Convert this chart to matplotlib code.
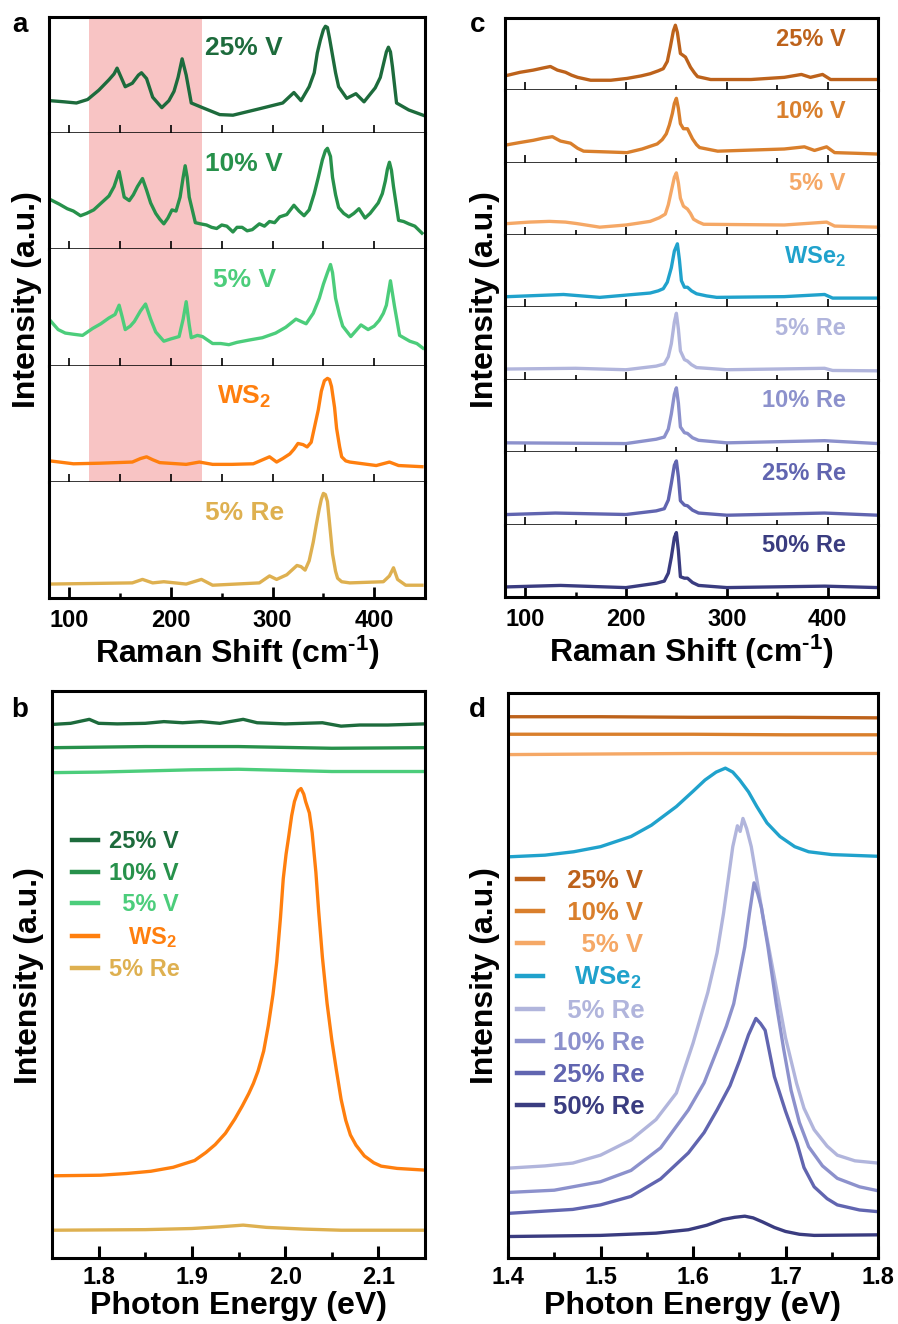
import matplotlib
matplotlib.use('Agg')
import matplotlib.pyplot as plt
from matplotlib.ticker import MultipleLocator

plt.rcParams['font.family'] = ['Liberation Sans', 'DejaVu Sans']
plt.rcParams['font.weight'] = 'bold'
plt.rcParams['mathtext.fontset'] = 'custom'
plt.rcParams['mathtext.rm'] = 'Liberation Sans:bold'
plt.rcParams['mathtext.bf'] = 'Liberation Sans:bold'
plt.rcParams['mathtext.it'] = 'Liberation Sans:bold'
plt.rcParams['mathtext.default'] = 'rm'

# ---------------- Panel a : WS2-based Raman (normalised per sub-panel) ----------------
a_labels = ['25% V', '10% V', '5% V', 'WS$_2$', '5% Re']
a_colors = ['#1d6b3c', '#27914b', '#4ccd7b', '#ff7f0e', '#deb050']
a_x_25V = [81,95,107,118,129,139,144,147,150,155,162,168,171,176,182,191,198,203,207,211,215,220,231,248,261,287,310,321,328,336,341,344,347,350,352,354,356,359,362,365,373,382,390,401,406,409,412,414,416,418,422,434,448]
a_y_25V = [0.28,0.27,0.26,0.29,0.37,0.46,0.51,0.56,0.50,0.40,0.43,0.50,0.52,0.47,0.31,0.22,0.28,0.36,0.48,0.64,0.50,0.26,0.22,0.16,0.155,0.21,0.26,0.35,0.28,0.40,0.52,0.69,0.80,0.89,0.92,0.91,0.82,0.67,0.52,0.40,0.30,0.34,0.27,0.39,0.48,0.59,0.70,0.74,0.70,0.57,0.26,0.20,0.155]
a_x_10V = [81,90,98,104,111,117,124,129,134,139,144,149,154,159,163,167,172,176,180,185,189,193,197,201,205,209,212,214,216,218,224,229,235,240,245,250,255,261,265,270,275,280,287,292,297,302,307,314,321,326,331,336,341,345,349,352,354,357,359,362,365,370,375,380,385,388,391,396,404,408,411,413,415,417,419,424,429,434,440,447]
a_y_10V = [0.43,0.39,0.35,0.33,0.29,0.31,0.34,0.38,0.42,0.46,0.54,0.67,0.45,0.42,0.47,0.54,0.61,0.51,0.40,0.31,0.26,0.22,0.27,0.34,0.33,0.45,0.62,0.72,0.62,0.45,0.23,0.22,0.21,0.19,0.18,0.21,0.20,0.15,0.19,0.19,0.16,0.17,0.22,0.20,0.24,0.23,0.28,0.30,0.38,0.33,0.29,0.34,0.48,0.62,0.77,0.85,0.87,0.80,0.62,0.47,0.36,0.31,0.28,0.31,0.35,0.31,0.27,0.31,0.40,0.48,0.59,0.69,0.75,0.68,0.54,0.25,0.24,0.22,0.20,0.14]
a_x_5V = [82,89,96,104,113,118,123,131,139,145,149,152,155,160,164,170,175,180,185,193,200,208,212,215,218,220,226,231,236,241,249,257,265,277,290,303,313,323,328,333,340,346,350,354,357,359,362,366,369,377,382,387,394,400,405,409,412,416,420,425,435,442,448]
a_y_5V = [0.38,0.31,0.28,0.27,0.26,0.29,0.32,0.36,0.41,0.44,0.52,0.42,0.31,0.34,0.38,0.47,0.53,0.40,0.29,0.21,0.23,0.25,0.40,0.55,0.35,0.24,0.26,0.25,0.22,0.19,0.19,0.18,0.20,0.22,0.24,0.28,0.33,0.40,0.38,0.36,0.45,0.58,0.70,0.80,0.87,0.80,0.58,0.43,0.34,0.25,0.30,0.35,0.31,0.34,0.39,0.45,0.52,0.73,0.51,0.26,0.21,0.19,0.15]
a_x_WS2 = [81,104,130,162,170,176,182,189,215,228,241,260,281,297,304,310,317,321,325,330,334,338,341,345,348,351,354,356,358,361,363,366,368,372,376,402,415,424,447]
a_y_WS2 = [0.18,0.155,0.16,0.17,0.20,0.215,0.19,0.165,0.15,0.17,0.15,0.15,0.155,0.215,0.17,0.20,0.24,0.28,0.33,0.32,0.30,0.34,0.46,0.62,0.78,0.87,0.89,0.88,0.82,0.64,0.46,0.30,0.215,0.18,0.17,0.14,0.17,0.14,0.13]
a_x_5Re = [81,162,172,182,193,215,230,241,287,297,304,314,319,324,328,332,336,340,343,346,348,350,352,354,357,359,362,364,368,376,409,415,419,423,431,447]
a_y_5Re = [0.12,0.13,0.16,0.13,0.14,0.12,0.16,0.11,0.13,0.19,0.16,0.20,0.24,0.28,0.27,0.24,0.32,0.48,0.63,0.77,0.85,0.90,0.89,0.83,0.56,0.38,0.23,0.17,0.14,0.13,0.14,0.19,0.26,0.16,0.11,0.11]
a_band = (119, 231)

# ---------------- Panel c : WSe2-based Raman ----------------
c_labels = ['25% V', '10% V', '5% V', 'WSe$_2$', '5% Re', '10% Re', '25% Re', '50% Re']
c_colors = ['#bd621b', '#d97f2c', '#f5a866', '#20a2cc', '#b1b5dc', '#8c91cc', '#6165b0', '#3a3c80']
c_x_25V = [83,95,108,118,125,132,140,146,152,165,185,201,215,224,232,237,241,244,247,249,251,254,259,264,268,271,284,324,357,374,383,395,403,420,450]
c_y_25V = [0.21,0.25,0.28,0.31,0.33,0.28,0.25,0.21,0.18,0.14,0.14,0.165,0.20,0.23,0.27,0.30,0.40,0.60,0.82,0.90,0.80,0.51,0.46,0.32,0.24,0.19,0.15,0.15,0.18,0.22,0.18,0.22,0.15,0.15,0.15]
c_x_10V = [83,95,108,118,127,135,145,152,158,180,201,216,231,236,240,243,246,248,250,252,254,257,261,266,270,273,291,357,377,387,399,407,430,450]
c_y_10V = [0.25,0.28,0.31,0.34,0.36,0.30,0.27,0.20,0.16,0.15,0.14,0.19,0.26,0.32,0.40,0.52,0.68,0.82,0.89,0.75,0.54,0.47,0.47,0.33,0.25,0.21,0.16,0.19,0.22,0.17,0.22,0.14,0.13,0.12]
c_x_5V = [83,104,124,140,151,174,200,224,233,239,242,245,248,250,252,254,257,261,264,267,272,277,357,399,407,450]
c_y_5V = [0.16,0.18,0.19,0.18,0.16,0.11,0.14,0.19,0.24,0.29,0.42,0.61,0.80,0.86,0.72,0.51,0.40,0.36,0.30,0.22,0.18,0.15,0.14,0.18,0.125,0.11]
c_x_WSe2 = [83,138,174,224,232,237,241,245,248,251,253,255,258,261,265,270,280,290,357,397,405,450]
c_y_WSe2 = [0.15,0.18,0.14,0.20,0.23,0.26,0.35,0.55,0.78,0.88,0.66,0.37,0.28,0.28,0.23,0.19,0.16,0.14,0.15,0.18,0.13,0.13]
c_x_5Re = [83,150,200,230,238,242,245,248,250,252,254,258,261,265,270,300,397,405,450]
c_y_5Re = [0.15,0.16,0.14,0.19,0.22,0.32,0.50,0.80,0.92,0.70,0.40,0.28,0.26,0.21,0.17,0.14,0.16,0.13,0.125]
c_x_10Re = [83,200,230,238,242,245,248,250,252,254,258,261,266,272,300,397,450]
c_y_10Re = [0.13,0.12,0.18,0.21,0.32,0.53,0.80,0.89,0.68,0.35,0.27,0.26,0.20,0.165,0.13,0.16,0.12]
c_x_25Re = [83,130,200,230,238,242,245,248,250,252,254,258,261,266,272,300,397,450]
c_y_25Re = [0.14,0.16,0.14,0.19,0.22,0.34,0.57,0.82,0.88,0.66,0.33,0.27,0.26,0.20,0.16,0.13,0.16,0.13]
c_x_50Re = [83,135,200,230,238,242,245,248,250,252,254,258,261,266,272,300,397,450]
c_y_50Re = [0.14,0.16,0.13,0.19,0.22,0.33,0.55,0.82,0.89,0.64,0.28,0.26,0.26,0.20,0.16,0.13,0.15,0.13]

# ---------------- Panel b : WS2-based PL (offset, a.u.) ----------------
b_labels = ['25% V', '10% V', '  5% V', '   WS$_2$', '5% Re']
b_colors = a_colors
b_x_25V = [1.75,1.77,1.79,1.80,1.82,1.85,1.87,1.89,1.91,1.93,1.955,1.97,2.00,2.02,2.04,2.06,2.08,2.11,2.15]
b_y_25V = [0.941,0.943,0.950,0.943,0.942,0.943,0.946,0.944,0.946,0.943,0.950,0.944,0.942,0.943,0.944,0.938,0.940,0.940,0.942]
b_x_10V = [1.75,1.85,1.95,2.05,2.15]
b_y_10V = [0.900,0.902,0.902,0.899,0.900]
b_x_5V = [1.75,1.80,1.90,1.95,2.05,2.15]
b_y_5V = [0.856,0.857,0.861,0.862,0.858,0.858]
b_x_WS2 = [1.751,1.802,1.830,1.856,1.880,1.903,1.915,1.925,1.936,1.946,1.954,1.961,1.966,1.971,1.977,1.982,1.987,1.991,1.995,1.998,2.001,2.004,2.007,2.010,2.014,2.017,2.020,2.022,2.026,2.029,2.033,2.036,2.040,2.045,2.050,2.055,2.060,2.065,2.070,2.076,2.085,2.095,2.103,2.120,2.150]
b_y_WS2 = [0.145,0.146,0.149,0.153,0.160,0.172,0.186,0.200,0.220,0.245,0.268,0.290,0.308,0.330,0.365,0.410,0.465,0.522,0.600,0.669,0.712,0.745,0.780,0.805,0.824,0.828,0.818,0.805,0.785,0.750,0.680,0.611,0.530,0.449,0.385,0.331,0.280,0.243,0.217,0.199,0.180,0.168,0.162,0.158,0.155]
b_x_5Re = [1.75,1.85,1.90,1.93,1.955,1.98,2.02,2.06,2.10,2.15]
b_y_5Re = [0.049,0.050,0.052,0.055,0.058,0.054,0.051,0.049,0.049,0.049]

# ---------------- Panel d : WSe2-based PL (offset, a.u.) ----------------
d_labels = ['  25% V', '  10% V', '    5% V', '   WSe$_2$', '  5% Re', '10% Re', '25% Re', '50% Re']
d_colors = c_colors
d_x_25V = [1.40,1.50,1.60,1.70,1.80]
d_y_25V = [0.958,0.958,0.957,0.957,0.956]
d_x_10V = [1.40,1.50,1.60,1.70,1.80]
d_y_10V = [0.927,0.927,0.927,0.926,0.926]
d_x_5V = [1.40,1.50,1.60,1.70,1.80]
d_y_5V = [0.891,0.892,0.893,0.893,0.893]
d_x_WSe2 = [1.400,1.440,1.471,1.500,1.533,1.555,1.582,1.600,1.613,1.625,1.635,1.643,1.6505,1.660,1.669,1.680,1.694,1.710,1.725,1.750,1.800]
d_y_WSe2 = [0.710,0.713,0.719,0.728,0.746,0.766,0.799,0.826,0.846,0.860,0.867,0.860,0.846,0.825,0.799,0.770,0.746,0.728,0.719,0.714,0.711]
d_x_5Re = [1.400,1.440,1.470,1.500,1.533,1.560,1.582,1.600,1.616,1.626,1.633,1.643,1.648,1.651,1.654,1.658,1.663,1.669,1.675,1.683,1.691,1.700,1.712,1.720,1.731,1.745,1.756,1.775,1.800]
d_y_5Re = [0.159,0.163,0.168,0.182,0.209,0.245,0.292,0.380,0.470,0.540,0.610,0.728,0.765,0.755,0.778,0.760,0.728,0.670,0.610,0.540,0.470,0.390,0.309,0.265,0.227,0.198,0.182,0.172,0.168]
d_x_10Re = [1.400,1.450,1.500,1.533,1.565,1.595,1.612,1.626,1.636,1.644,1.650,1.656,1.661,1.666,1.670,1.674,1.681,1.690,1.698,1.706,1.715,1.725,1.740,1.756,1.780,1.800]
d_y_10Re = [0.116,0.120,0.135,0.155,0.195,0.262,0.310,0.368,0.410,0.450,0.500,0.551,0.610,0.664,0.645,0.620,0.551,0.450,0.370,0.297,0.240,0.197,0.163,0.141,0.126,0.119]
d_x_25Re = [1.400,1.470,1.500,1.533,1.565,1.595,1.612,1.626,1.640,1.6505,1.660,1.668,1.673,1.678,1.688,1.700,1.7125,1.720,1.731,1.745,1.756,1.780,1.800]
d_y_25Re = [0.079,0.086,0.094,0.109,0.140,0.186,0.222,0.262,0.305,0.350,0.395,0.424,0.415,0.403,0.321,0.260,0.203,0.160,0.126,0.105,0.094,0.085,0.082]
d_x_50Re = [1.400,1.500,1.560,1.595,1.615,1.632,1.645,1.656,1.665,1.675,1.688,1.700,1.715,1.731,1.800]
d_y_50Re = [0.038,0.040,0.044,0.050,0.058,0.068,0.072,0.074,0.071,0.064,0.054,0.047,0.042,0.040,0.041]

# ---------------- figure ----------------
W, H = 898, 1324
fig = plt.figure(figsize=(W / 100, H / 100), dpi=100)

def rect(l, t, r, b):
    return [l / W, 1 - b / H, (r - l) / W, (b - t) / H]

OUT_LW = 2.2
SEP_LW = 1.1
LINE_LW = 2.4
TICK_FS = 17
LABEL_FS = 23
RAMAN_LABEL = 'Raman Shift (cm$^{\\text{-}1}$)'

def make_stack(r, n, minor_mid):
    l, b, w, h = r
    axs = []
    for i in range(n):
        ax = fig.add_axes([l, b + h * (n - 1 - i) / n, w, h / n])
        ax.set_xlim(80, 450)
        ax.set_ylim(0, 1)
        ax.set_yticks([])
        ax.xaxis.set_major_locator(MultipleLocator(100))
        ax.xaxis.set_minor_locator(MultipleLocator(50))
        for s in ('left', 'right'):
            ax.spines[s].set_linewidth(OUT_LW)
        ax.spines['top'].set_visible(i == 0)
        ax.spines['top'].set_linewidth(OUT_LW)
        last = (i == n - 1)
        ax.spines['bottom'].set_linewidth(OUT_LW if last else SEP_LW)
        if last:
            ax.tick_params(axis='x', which='major', direction='in', length=8, width=2,
                           labelsize=TICK_FS, pad=8)
            ax.tick_params(axis='x', which='minor', direction='in', length=3.5, width=1.8)
        else:
            ax.tick_params(axis='x', which='major', direction='in', length=6, width=1.2,
                           labelbottom=False)
            ax.tick_params(axis='x', which='minor', direction='in', length=minor_mid, width=1.2)
        axs.append(ax)
    return axs

# Panel a
axs_a = make_stack(rect(49, 17, 425, 598), 5, 6)
a_series = [(a_x_25V, a_y_25V), (a_x_10V, a_y_10V), (a_x_5V, a_y_5V),
            (a_x_WS2, a_y_WS2), (a_x_5Re, a_y_5Re)]
for i, (ax, (xs, ys)) in enumerate(zip(axs_a, a_series)):
    if i < 4:
        ax.axvspan(a_band[0], a_band[1], color='#f8c4c4', lw=0, zorder=0)
    ax.plot(xs, ys, color=a_colors[i], lw=LINE_LW, solid_joinstyle='round', zorder=2)
    ax.text(272, 0.675, a_labels[i], color=a_colors[i], fontsize=19, fontweight='bold',
            ha='center', va='baseline')
axs_a[-1].set_xlabel(RAMAN_LABEL, fontsize=LABEL_FS, fontweight='bold', labelpad=1)

# Panel c
axs_c = make_stack(rect(505, 18, 878, 597), 8, 3.5)
c_series = [(c_x_25V, c_y_25V), (c_x_10V, c_y_10V), (c_x_5V, c_y_5V), (c_x_WSe2, c_y_WSe2),
            (c_x_5Re, c_y_5Re), (c_x_10Re, c_y_10Re), (c_x_25Re, c_y_25Re), (c_x_50Re, c_y_50Re)]
for i, (ax, (xs, ys)) in enumerate(zip(axs_c, c_series)):
    ax.plot(xs, ys, color=c_colors[i], lw=LINE_LW, solid_joinstyle='round', zorder=2)
    ax.text(418, 0.62, c_labels[i], color=c_colors[i], fontsize=17, fontweight='bold',
            ha='right', va='baseline')
axs_c[-1].set_xlabel(RAMAN_LABEL, fontsize=LABEL_FS, fontweight='bold', labelpad=1)

def style_pl(ax, xlim):
    ax.set_xlim(*xlim)
    ax.set_ylim(0, 1)
    ax.set_yticks([])
    ax.xaxis.set_major_locator(MultipleLocator(0.1))
    ax.xaxis.set_minor_locator(MultipleLocator(0.05))
    for s in ax.spines.values():
        s.set_linewidth(OUT_LW)
    ax.tick_params(axis='x', which='major', direction='in', length=9, width=2.2,
                   labelsize=TICK_FS, pad=6)
    ax.tick_params(axis='x', which='minor', direction='in', length=4.5, width=2)
    ax.set_xlabel('Photon Energy (eV)', fontsize=LABEL_FS, fontweight='bold', labelpad=1)

# Panel b
ax_b = fig.add_axes(rect(52, 691, 425, 1258))
style_pl(ax_b, (1.75, 2.15))
b_series = [(b_x_25V, b_y_25V), (b_x_10V, b_y_10V), (b_x_5V, b_y_5V),
            (b_x_WS2, b_y_WS2), (b_x_5Re, b_y_5Re)]
b_lines = []
for i, (xs, ys) in enumerate(b_series):
    ln, = ax_b.plot(xs, ys, color=b_colors[i], lw=LINE_LW, solid_joinstyle='round',
                    label=b_labels[i])
    b_lines.append(ln)
leg_b = ax_b.legend(handles=b_lines, loc='upper left', bbox_to_anchor=(0.054, 0.754),
                    frameon=False, fontsize=17, handlelength=1.1, handletextpad=0.45,
                    labelspacing=0.36, borderpad=0, borderaxespad=0)
for t, c in zip(leg_b.get_texts(), b_colors):
    t.set_color(c)
    t.set_fontweight('bold')
for h in leg_b.legend_handles:
    h.set_linewidth(3.2)

# Panel d
ax_d = fig.add_axes(rect(508, 693, 878, 1258))
style_pl(ax_d, (1.4, 1.8))
d_series = [(d_x_25V, d_y_25V), (d_x_10V, d_y_10V), (d_x_5V, d_y_5V), (d_x_WSe2, d_y_WSe2),
            (d_x_5Re, d_y_5Re), (d_x_10Re, d_y_10Re), (d_x_25Re, d_y_25Re), (d_x_50Re, d_y_50Re)]
d_lines = []
for i, (xs, ys) in enumerate(d_series):
    ln, = ax_d.plot(xs, ys, color=d_colors[i], lw=LINE_LW, solid_joinstyle='round',
                    label=d_labels[i])
    d_lines.append(ln)
leg_d = ax_d.legend(handles=d_lines, loc='upper left', bbox_to_anchor=(0.024, 0.688),
                    frameon=False, fontsize=18.5, handlelength=1.0, handletextpad=0.4,
                    labelspacing=0.31, borderpad=0, borderaxespad=0)
for t, c in zip(leg_d.get_texts(), d_colors):
    t.set_color(c)
    t.set_fontweight('bold')
for h in leg_d.legend_handles:
    h.set_linewidth(3.2)

# Y labels
for (x, y) in [(27, 300), (485, 300), (29, 976), (485, 976)]:
    fig.text(x / W, 1 - y / H, 'Intensity (a.u.)', rotation=90, ha='center', va='center',
             fontsize=LABEL_FS, fontweight='bold')

# Panel letters
for (x, y, s) in [(12, 32, 'a'), (470, 32, 'c'), (11, 717, 'b'), (469, 717, 'd')]:
    fig.text(x / W, 1 - y / H, s, ha='left', va='baseline', fontsize=20, fontweight='bold')

fig.savefig('out.png', dpi=100)
